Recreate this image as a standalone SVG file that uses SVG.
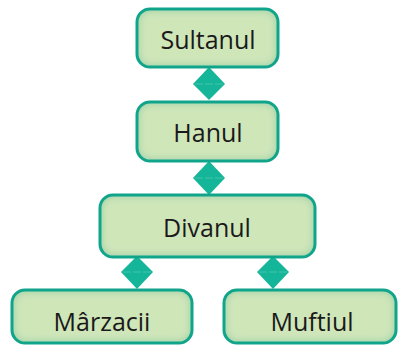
<svg xmlns="http://www.w3.org/2000/svg" width="398" height="349" viewBox="0 0 398 349">
<defs>
<filter id="ig" x="-10%" y="-20%" width="120%" height="140%">
<feGaussianBlur in="SourceAlpha" stdDeviation="5" result="b"/>
<feComposite in="SourceAlpha" in2="b" operator="out" result="edge"/>
<feFlood flood-color="#72c49e" result="c"/>
<feComposite in="c" in2="edge" operator="in" result="glow"/>
<feMerge><feMergeNode in="SourceGraphic"/><feMergeNode in="glow"/></feMerge>
</filter>
</defs>
<style>
.fill{fill:#cfe6b9;filter:url(#ig)}
.edge{fill:none;stroke:#10a58a;stroke-width:3}
.lbl{font-family:"Open Sans","Noto Sans",sans-serif;font-size:25px;fill:#1a1a1a;text-anchor:middle}
.dia{fill:#14b598}
.seam{stroke:#6fd6c2;stroke-width:1;stroke-dasharray:8 2;opacity:0.5}
</style>
<g id="connectors">
<polygon class="dia" points="209,67 225,84 209,100 193,84"/>
<line class="seam" x1="195" y1="84" x2="223" y2="84"/>
<polygon class="dia" points="209,161 225,178 209,195 193,178"/>
<line class="seam" x1="195" y1="178" x2="223" y2="178"/>
<polygon class="dia" points="137,256 153,272 137,289 121,272"/>
<line class="seam" x1="123" y1="272" x2="151" y2="272"/>
<polygon class="dia" points="273,256 289,272 273,289 257,272"/>
<line class="seam" x1="259" y1="272" x2="287" y2="272"/>
</g>
<g id="sultanul">
<rect class="fill" x="137" y="9" width="141" height="58" rx="13"/>
<rect class="edge" x="137" y="9" width="141" height="58" rx="13"/>
<text class="lbl" x="208" y="49">Sultanul</text>
</g>
<g id="hanul">
<rect class="fill" x="137" y="102" width="141" height="59" rx="13"/>
<rect class="edge" x="137" y="102" width="141" height="59" rx="13"/>
<text class="lbl" x="208" y="142">Hanul</text>
</g>
<g id="divanul">
<rect class="fill" x="100" y="195" width="215" height="62" rx="13"/>
<rect class="edge" x="100" y="195" width="215" height="62" rx="13"/>
<text class="lbl" x="207" y="237">Divanul</text>
</g>
<g id="marzacii">
<rect class="fill" x="12" y="290" width="180" height="53" rx="13"/>
<rect class="edge" x="12" y="290" width="180" height="53" rx="13"/>
<text class="lbl" x="102" y="331">Mârzacii</text>
</g>
<g id="muftiul">
<rect class="fill" x="224" y="290" width="172" height="53" rx="13"/>
<rect class="edge" x="224" y="290" width="172" height="53" rx="13"/>
<text class="lbl" x="312" y="331">Muftiul</text>
</g>
</svg>
